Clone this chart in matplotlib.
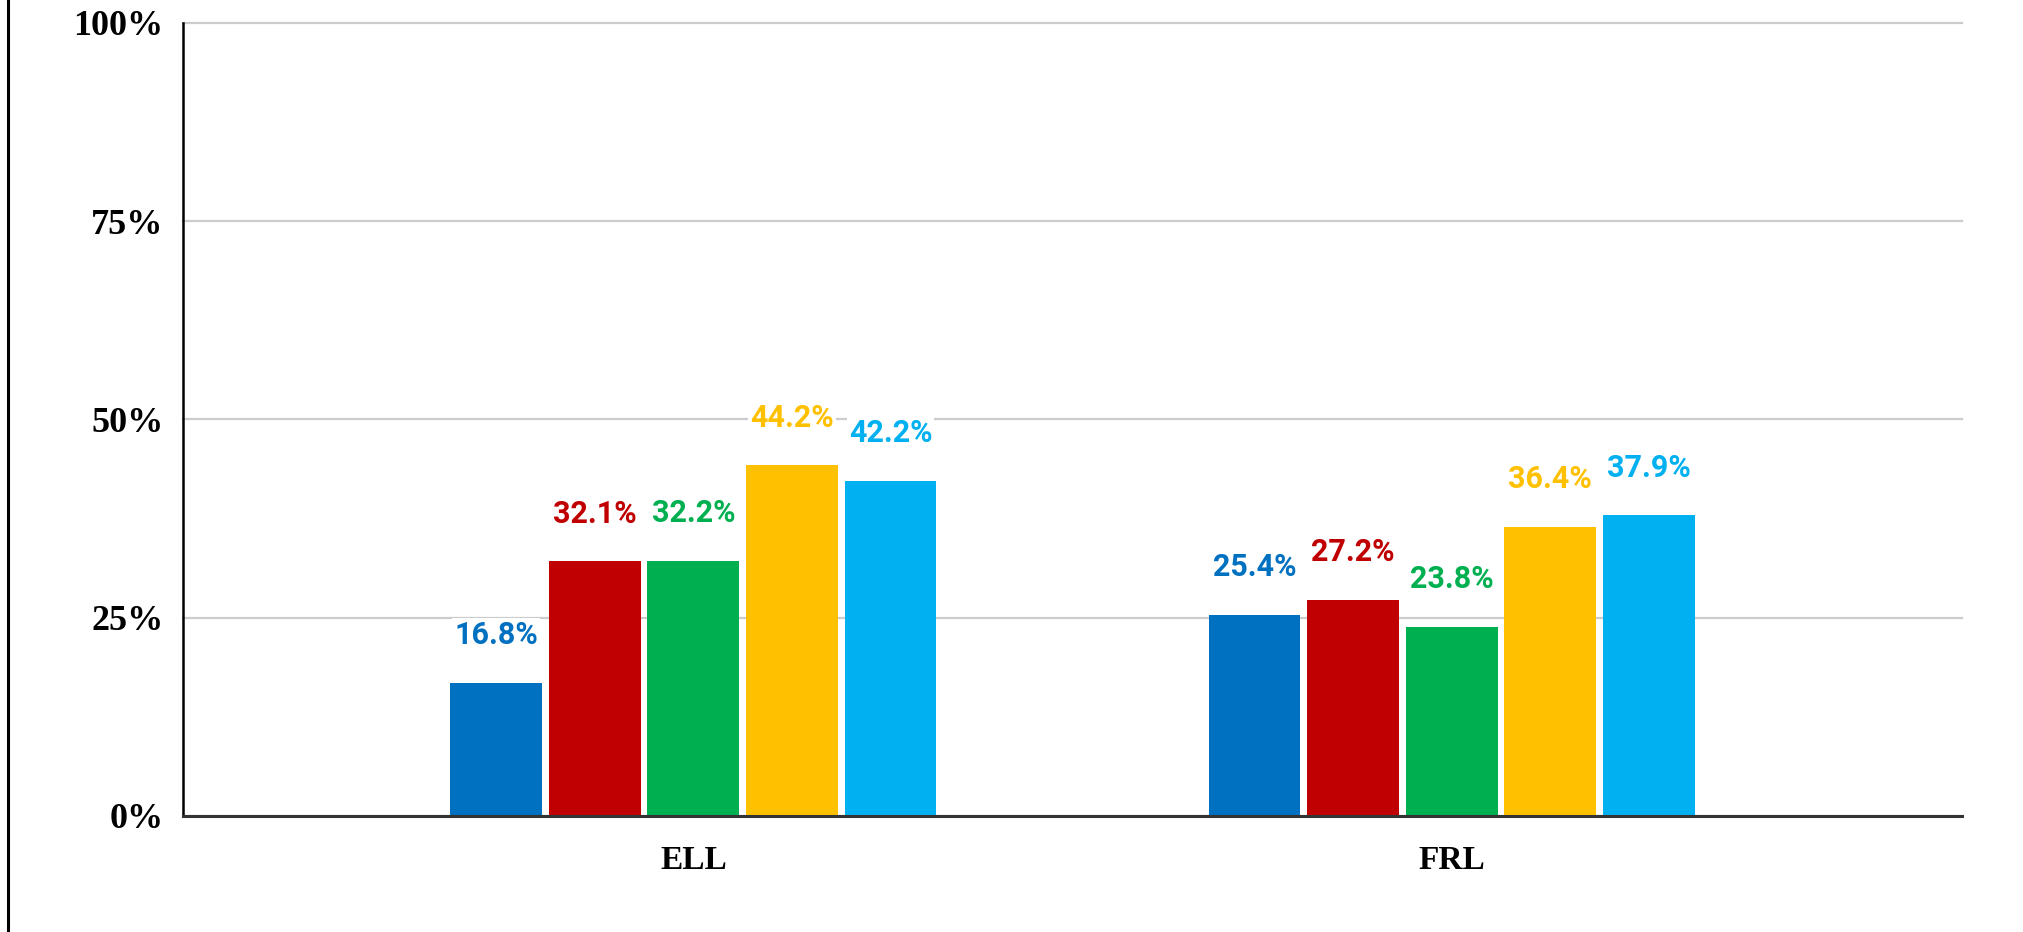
import numpy as np
import matplotlib.pyplot as plt
from matplotlib.lines import Line2D

# data
categories = ['ELL', 'FRL']
series_colors = ['#0070C0', '#C00000', '#00B050', '#FFC000', '#00B0F0']
ell_values = [16.8, 32.1, 32.2, 44.2, 42.2]
frl_values = [25.4, 27.2, 23.8, 36.4, 37.9]
yticks = [0, 25, 50, 75, 100]
ytick_labels = ['0%', '25%', '50%', '75%', '100%']

values = np.array([ell_values, frl_values])  # rows = categories, cols = series

W, H = 2023, 932
fig = plt.figure(figsize=(W / 100, H / 100), dpi=100)
ax = fig.add_axes([183 / W, (H - 816) / H, (1962 - 183) / W, (816 - 23) / H])

x = np.arange(len(categories))
step = 0.130
width = 0.121
n = values.shape[1]
for j in range(n):
    xs = x + (j - (n - 1) / 2) * step
    bars = ax.bar(xs, values[:, j], width=width, color=series_colors[j], zorder=3)
    for rect, v in zip(bars, values[:, j]):
        ax.annotate(f'{v:.1f}%', (rect.get_x() + rect.get_width() / 2, v),
                    xytext=(0, 34.5), textcoords='offset points',
                    ha='center', va='center', fontsize=22, fontweight='bold',
                    family='Roboto', color=series_colors[j], zorder=4,
                    bbox=dict(facecolor='white', edgecolor='none', pad=1.5))

ax.set_xlim(-0.673, 1.673)
ax.set_ylim(0, 100)
ax.set_xticks(x)
ax.set_xticklabels(categories, fontsize=24, fontweight='bold', family='Liberation Serif')
ax.set_yticks(yticks)
ax.set_yticklabels(ytick_labels, fontsize=26, fontweight='bold', family='Liberation Serif')
ax.tick_params(axis='y', length=0, pad=14)
ax.tick_params(axis='x', length=0, pad=21)

ax.grid(axis='y', color='#cccccc', linewidth=1.6, zorder=0)
for gl in ax.get_ygridlines():
    gl.set_clip_on(False)
ax.set_axisbelow(True)
for s in ['top', 'right']:
    ax.spines[s].set_visible(False)
ax.spines['left'].set_color('black')
ax.spines['left'].set_linewidth(1.8)
ax.spines['bottom'].set_color('#333333')
ax.spines['bottom'].set_linewidth(2.2)
ax.spines['bottom'].set_zorder(5)

# thin frame line at the far left of the image
fig.add_artist(Line2D([8 / W, 8 / W], [0, 1], color='black', linewidth=2.2))

plt.savefig('out.png', dpi=100)
